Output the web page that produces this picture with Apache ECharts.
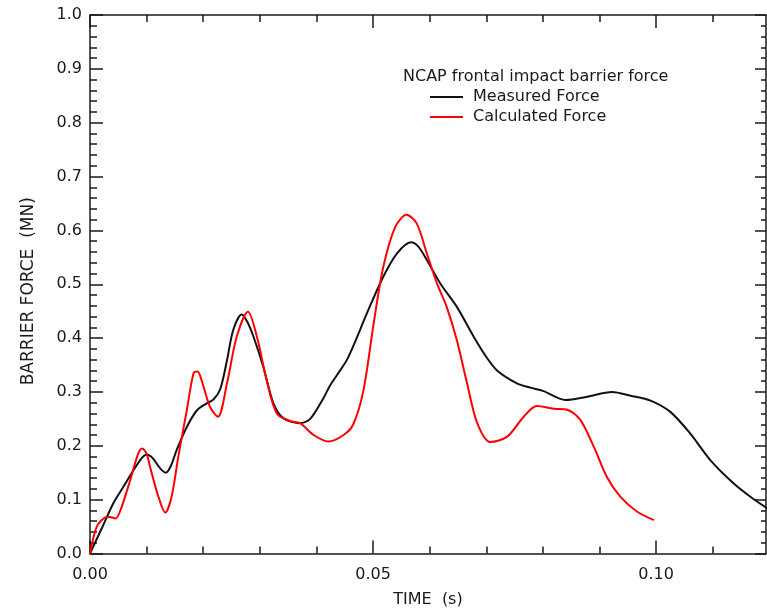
<!DOCTYPE html>
<html>
<head>
<meta charset="utf-8">
<script src="https://cdn.jsdelivr.net/npm/echarts@6/dist/echarts.min.js"></script>
<style>html,body{margin:0;padding:0;background:#fff}#c{width:767px;height:608px}</style>
</head>
<body>
<div id="c"></div>
<script>
// ---- data ----
var legendTitle = 'NCAP frontal impact barrier force';
var seriesNames = ['Measured Force', 'Calculated Force'];
var xMajorTicks = [0, 0.05, 0.10];
var xMinorTicks = [0.01, 0.02, 0.03, 0.04, 0.06, 0.07, 0.08, 0.09, 0.11];
var measured = [
  [0,0],[0.002,0.045],[0.0041,0.093],[0.0059,0.124],[0.0077,0.155],[0.0092,0.178],[0.0100,0.184],
  [0.0110,0.178],[0.0124,0.158],[0.0134,0.150],[0.0143,0.163],[0.0153,0.192],[0.0171,0.235],
  [0.0189,0.266],[0.0205,0.278],[0.0218,0.286],[0.0230,0.305],[0.0242,0.359],[0.0253,0.415],
  [0.0268,0.444],[0.0278,0.430],[0.0289,0.402],[0.0306,0.347],[0.0324,0.279],[0.0342,0.251],
  [0.0371,0.242],[0.0389,0.250],[0.0412,0.288],[0.0424,0.312],[0.0436,0.331],[0.0454,0.360],
  [0.0471,0.400],[0.0489,0.446],[0.0518,0.514],[0.0542,0.557],[0.0567,0.578],[0.0580,0.570],
  [0.0595,0.545],[0.0619,0.501],[0.0648,0.458],[0.0678,0.402],[0.0700,0.365],[0.0719,0.340],
  [0.0754,0.316],[0.0778,0.308],[0.0800,0.302],[0.0840,0.285],[0.0878,0.291],[0.0922,0.300],
  [0.0955,0.293],[0.0990,0.284],[0.1025,0.263],[0.1060,0.223],[0.1096,0.173],[0.1137,0.130],
  [0.1167,0.105],[0.1196,0.084]
];
var calculated = [
  [0,0],[0.0012,0.05],[0.0027,0.067],[0.0035,0.068],[0.0045,0.065],[0.0053,0.078],[0.0071,0.136],
  [0.0085,0.185],[0.0092,0.195],[0.0100,0.185],[0.0106,0.161],[0.0121,0.105],[0.0133,0.076],
  [0.0144,0.105],[0.0156,0.180],[0.0171,0.266],[0.0183,0.335],[0.0190,0.338],[0.0197,0.322],
  [0.0212,0.272],[0.0226,0.254],[0.0242,0.316],[0.0259,0.402],[0.0279,0.449],[0.0295,0.402],
  [0.0312,0.322],[0.0330,0.260],[0.0354,0.246],[0.0371,0.242],[0.0395,0.220],[0.0421,0.208],
  [0.0448,0.220],[0.0465,0.240],[0.0483,0.303],[0.0501,0.427],[0.0518,0.532],[0.0539,0.606],
  [0.0559,0.629],[0.0577,0.613],[0.0595,0.557],[0.0613,0.501],[0.0630,0.458],[0.0648,0.396],
  [0.0666,0.316],[0.0684,0.242],[0.0707,0.207],[0.0737,0.217],[0.0766,0.254],[0.0789,0.274],
  [0.0819,0.269],[0.0843,0.267],[0.0866,0.248],[0.0890,0.198],[0.0913,0.142],[0.0937,0.105],
  [0.0966,0.078],[0.0996,0.062]
];

// ---- chart ----
var FONT = '"DejaVu Sans", "Liberation Sans", Arial, sans-serif';
var INK = '#1a1a1a';
var XMAX = 0.1194;
function xAx(pos, ticks, len, showLine, labels) {
  return {
    type: 'value', position: pos, min: 0, max: XMAX,
    axisLine: { show: showLine, onZero: false, lineStyle: { color: INK, width: 1.5 } },
    splitLine: { show: false },
    axisTick: { show: true, inside: true, length: len, customValues: ticks, lineStyle: { color: INK, width: 1.5 } },
    axisLabel: labels ? {
      show: true, customValues: ticks, margin: 13, fontSize: 16, color: INK, fontFamily: FONT,
      formatter: function (v) { return v.toFixed(2); }
    } : { show: false }
  };
}
var bottomMajor = xAx('bottom', xMajorTicks, 13, true, true);
bottomMajor.name = 'TIME  (s)';
bottomMajor.nameLocation = 'middle';
bottomMajor.nameGap = 38;
bottomMajor.nameTextStyle = { fontSize: 16, color: INK, fontFamily: FONT };

function yAx(pos, majLen, minLen, labels) {
  return {
    type: 'value', position: pos, min: 0, max: 1, interval: 0.1,
    axisLine: { show: true, onZero: false, lineStyle: { color: INK, width: 1.5 } },
    splitLine: { show: false },
    axisTick: { show: true, inside: true, length: majLen, lineStyle: { color: INK, width: 1.5 } },
    minorTick: { show: true, splitNumber: 5, length: minLen, lineStyle: { color: INK, width: 1.5 } },
    minorSplitLine: { show: false },
    axisLabel: labels ? {
      show: true, margin: 8, fontSize: 16, color: INK, fontFamily: FONT,
      formatter: function (v) { return v.toFixed(1); }
    } : { show: false }
  };
}
var leftY = yAx('left', 13, 7, true);
leftY.name = 'BARRIER FORCE  (MN)';
leftY.nameLocation = 'middle';
leftY.nameGap = 53;
leftY.nameTextStyle = { fontSize: 17, color: INK, fontFamily: FONT, padding: [0, 14, 0, 0] };

var chart = echarts.init(document.getElementById('c'), null, { renderer: 'canvas' });
chart.setOption({
  animation: false,
  backgroundColor: '#fff',
  textStyle: { fontFamily: FONT },
  title: {
    text: legendTitle, left: 403, top: 69, padding: 0,
    textStyle: { fontSize: 16, fontWeight: 'normal', color: INK, fontFamily: FONT }
  },
  legend: {
    orient: 'vertical', left: 430, top: 89, padding: 0,
    icon: 'rect', itemWidth: 33, itemHeight: 2, itemGap: 4,
    textStyle: { fontSize: 16, color: INK, fontFamily: FONT, padding: [0, 0, 0, 5] },
    data: seriesNames
  },
  grid: { left: 90, top: 15, width: 676, height: 538.5, containLabel: false, outerBoundsMode: 'none' },
  xAxis: [
    bottomMajor,
    xAx('bottom', xMinorTicks, 7, false, false),
    xAx('top', xMajorTicks, 13, true, false),
    xAx('top', xMinorTicks, 7, false, false)
  ],
  yAxis: [leftY, yAx('right', 11, 5, false)],
  graphic: [
    { type: 'rect', shape: { x: 468, y: 122.5, width: 180, height: 6 }, style: { fill: '#fff' }, z: 100 }
  ],
  series: [
    { name: seriesNames[0], type: 'line', data: measured, symbol: 'none', smooth: 0.3,
      lineStyle: { color: '#111', width: 2 }, itemStyle: { color: '#111' } },
    { name: seriesNames[1], type: 'line', data: calculated, symbol: 'none', smooth: 0.3,
      lineStyle: { color: '#ff0000', width: 2 }, itemStyle: { color: '#ff0000' } }
  ]
});
</script>
</body>
</html>
